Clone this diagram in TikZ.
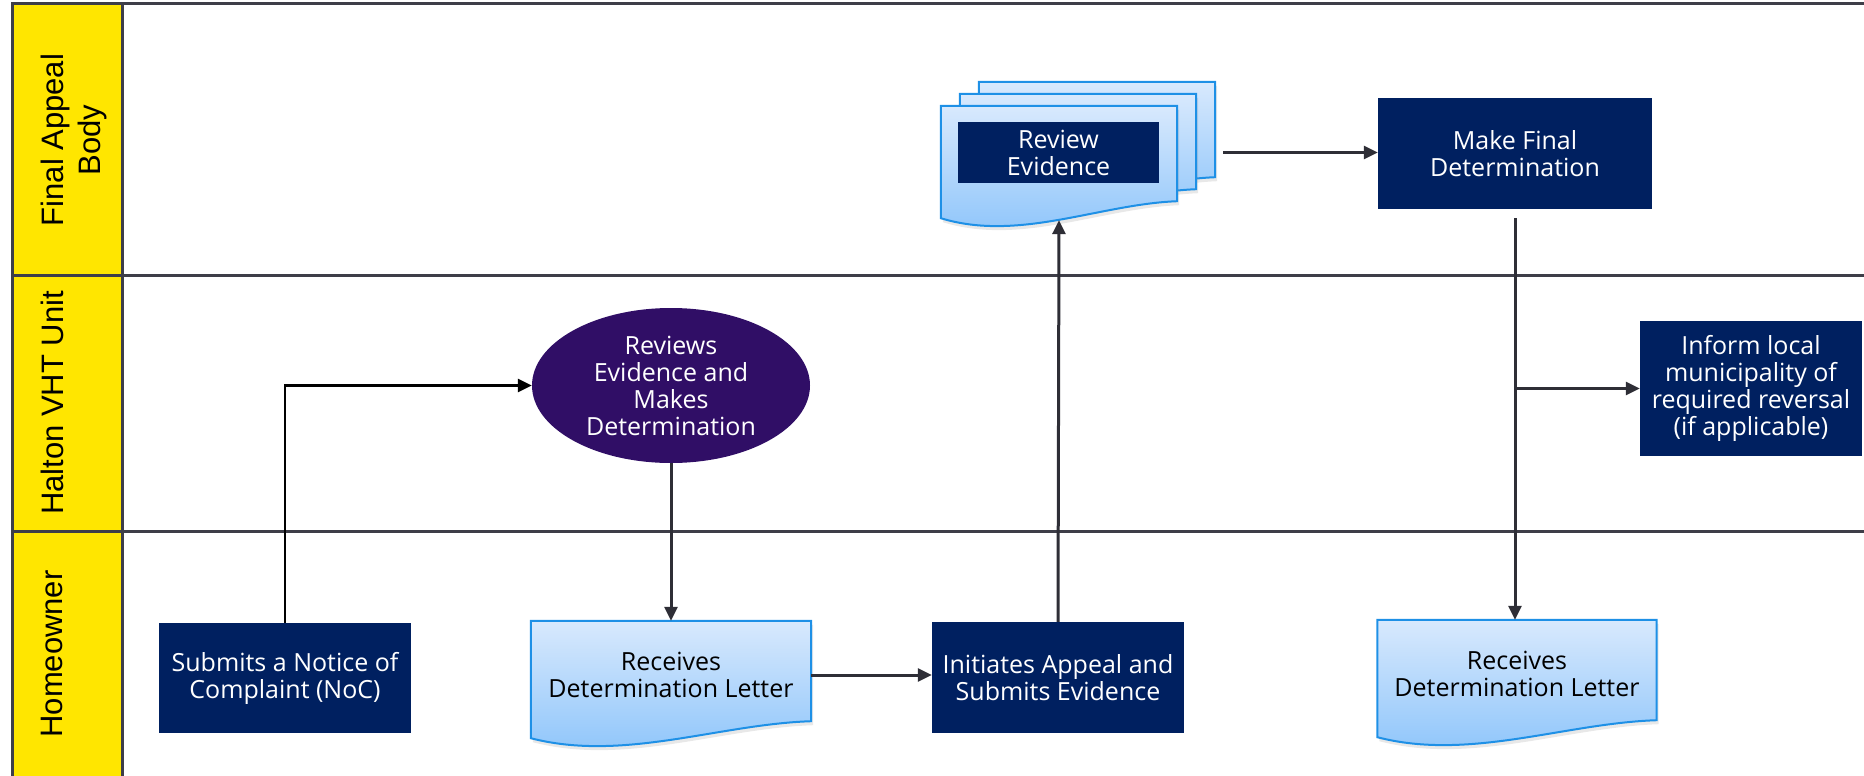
\documentclass[tikz,border=0pt]{standalone}
\usepackage{fontspec}
\setmainfont{Open Sans}
\newfontfamily\lanefont{Liberation Sans}
\usetikzlibrary{arrows.meta,calc,backgrounds,shapes.geometric,shadows}
\definecolor{eyyellow}{RGB}{255,230,0}
\definecolor{eynavy}{RGB}{0,32,96}
\definecolor{eypurple}{RGB}{48,14,102}
\definecolor{linegray}{RGB}{46,46,54}
\definecolor{framegray}{RGB}{62,62,72}
\definecolor{doctop}{RGB}{216,233,253}
\definecolor{docbottom}{RGB}{138,195,250}
\definecolor{docborder}{RGB}{30,144,230}

% document outline with a wavy foot, optional offset for stacked sheets
\newcommand{\docoutline}[2][0,0]{%
  \path[docpaper] ($(#2.north west)+(#1)$) -- ($(#2.north east)+(#1)$)
    -- ($(#2.south east)+(#1)+(0,-8)$)
    .. controls ($(#2.south west)!0.67!(#2.south east)+(#1)+(0,-5)$)
    and ($(#2.south west)!0.33!(#2.south east)+(#1)+(0,33)$)
    .. ($(#2.south west)+(#1)+(0,9)$) -- cycle;}

\begin{document}
\begin{tikzpicture}[x=1pt, y=-1pt,
        navybox/.style={shape=rectangle, fill=eynavy, text=white, inner sep=0pt, align=center,
            font=\fontsize{25}{27}\selectfont},
        unitellipse/.style={shape=ellipse, fill=eypurple, text=white, inner sep=0pt, align=center,
            font=\fontsize{25}{27}\selectfont},
        docnode/.style={shape=rectangle, inner sep=0pt, align=center, text=black,
            font=\fontsize{25}{27}\selectfont},
        docpaper/.style={top color=doctop, bottom color=docbottom, draw=docborder, line width=2pt,
            drop shadow={opacity=0.18, shadow xshift=2pt, shadow yshift=-4pt}},
        lanelabel/.style={rotate=90, anchor=north, inner sep=0pt, align=center,
            font=\lanefont\fontsize{31}{37}\selectfont},
        arr/.style={draw=linegray, line width=3pt, -{Triangle[length=14pt,width=13pt]}}]
        \useasboundingbox (0,0) rectangle (1864,776);
        % Lanes
        \fill[eyyellow] (12,4) rectangle (122,776);
        \draw[framegray, line width=3pt] (1864,4) -- (12,4) -- (12,776);
        \draw[framegray, line width=3pt] (122,4) -- (122,776);
        \foreach \y in {275,531} {
          \draw[framegray, line width=3pt] (12,\y) -- (1864,\y);
        }
        \foreach \y/\lanetext in {140/Final Appeal\\Body, 403/Halton VHT Unit, 654/Homeowner} {
          \node[lanelabel] at (41,\y) {\lanetext};
        }
        % Homeowner lane
        \node[navybox, minimum width=252pt, minimum height=110pt] (notice) at (285,678) {Submits a Notice of\\Complaint (NoC)};
        \node[docnode, minimum width=280pt, minimum height=108pt] (letterA) at (671,675) {Receives\\Determination Letter};
        \node[navybox, minimum width=252pt, minimum height=111pt] (appeal) at (1058,677.5) {Initiates Appeal and\\Submits Evidence};
        \node[docnode, minimum width=279pt, minimum height=108pt] (letterB) at (1517,674) {Receives\\Determination Letter};
        % Halton VHT Unit lane
        \node[unitellipse, minimum width=278pt, minimum height=155pt] (unitreview) at (671,385.5) {Reviews\\Evidence and\\Makes\\Determination};
        \node[navybox, minimum width=222pt, minimum height=135pt] (inform) at (1751,388.5) {Inform local\\municipality of\\required reversal\\(if applicable)};
        % Final Appeal Body lane
        \node[docnode, minimum width=236pt, minimum height=103pt] (revdoc) at (1059,157.5) {};
        \node[navybox, minimum width=201pt, minimum height=61pt] (review) at (1058.5,152.5) {Review\\Evidence};
        \node[navybox, minimum width=274pt, minimum height=111pt] (final) at (1515,153.5) {Make Final\\Determination};
        % Document sheets
        \begin{scope}[on background layer]
          \docoutline{letterA}
          \docoutline{letterB}
          \docoutline[38,-24]{revdoc}
          \docoutline[19,-12]{revdoc}
          \docoutline{revdoc}
        \end{scope}
        % Arrows
        \draw[arr, draw=black, line width=2.5pt] (notice.north) |- (unitreview.west);
        \draw[arr] (unitreview.south) -- (letterA.north);
        \draw[arr] (letterA.east) -- (letterA.east -| appeal.west);
        \draw[arr] (appeal.north) -- ([yshift=-11pt]revdoc.south);
        \draw[arr, shorten <=64pt] (review.east) -- (review.east -| final.west);
        \draw[arr, shorten <=9pt] (final.south) -- (final.south |- letterB.north);
        \coordinate (branch) at (final.south |- inform.west);
        \draw[arr] (branch) -- (inform.west);
\end{tikzpicture}
\end{document}
